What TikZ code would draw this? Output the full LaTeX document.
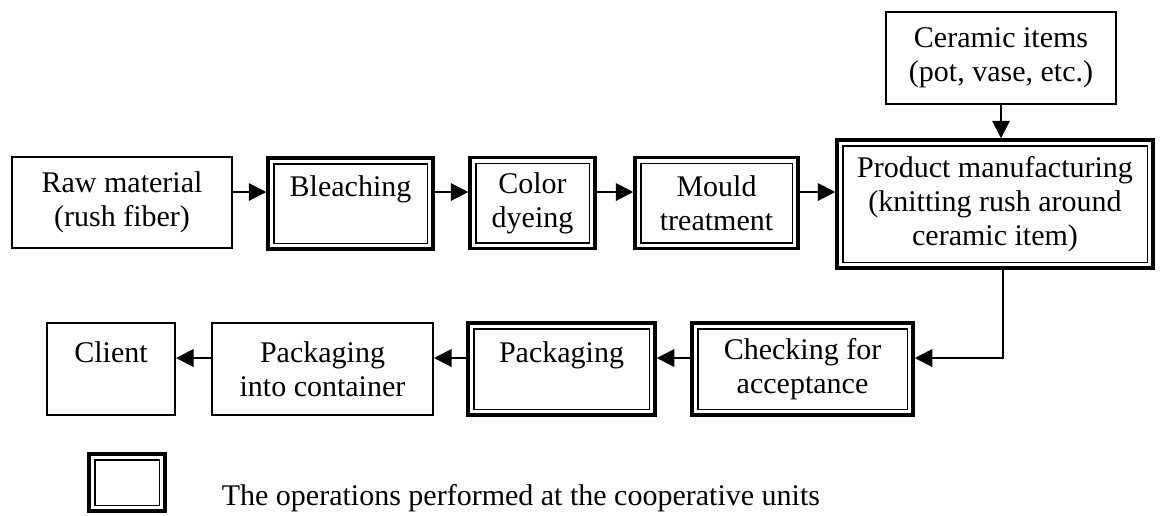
\documentclass[tikz,border=0pt]{standalone}
\usepackage{fontspec}
\setmainfont{Liberation Serif}
\usetikzlibrary{arrows.meta}
\begin{document}
\begin{tikzpicture}[x=0.4pt,y=-0.4pt]

  % Definitions
  \tikzstyle{plain} = [rectangle, draw=black, line width=0.8pt, align=center, inner sep=0pt, minimum height=36.4pt, font=\fontsize{12}{13.6}\selectfont]
  \tikzstyle{coop} = [plain, line width=1.4pt, path picture={\draw[line width=0.6pt] ([shift={(2.3pt,-2.3pt)}]path picture bounding box.north west) rectangle ([shift={(-2.3pt,2.3pt)}]path picture bounding box.south east);}]
  \tikzstyle{arrow} = [line width=0.8pt,-{Triangle[length=7pt,width=7pt]}]

  \useasboundingbox (0,0) rectangle (1163,515);

  \node (raw) [plain, minimum width=88pt] at (122,202.5) {Raw material\\(rush fiber)};
  \node (bleach) [coop, minimum width=66pt] at (350.5,203.5) {Bleaching\\\mbox{}};
  \node (dye) [coop, minimum width=50pt] at (532.5,203) {Color\\dyeing};
  \node (mould) [coop, minimum width=65.2pt] at (716.5,203) {Mould\\treatment};
  \node (product) [coop, minimum width=126.4pt, minimum height=51.2pt] at (995,204) {Product manufacturing\\(knitting rush around\\ceramic item)};
  \node (ceramic) [plain, minimum width=92pt, minimum height=36.8pt] at (1001,58) {Ceramic items\\(pot, vase, etc.)};

  \node (check) [coop, minimum width=88.4pt, minimum height=36.8pt] at (802.5,369) {Checking for\\acceptance};
  \node (pack) [coop, minimum width=74.8pt, minimum height=36.8pt] at (561.5,369) {Packaging\\\mbox{}};
  \node (container) [plain, minimum width=88.4pt, minimum height=36.8pt] at (322.5,369) {Packaging\\into container};
  \node (client) [plain, minimum width=51.2pt, minimum height=36.8pt] at (111,369) {Client\\\mbox{}};

  \node (key) [coop, minimum width=30.4pt, minimum height=22.8pt] at (127,482.5) {};
  \node (keytext) [anchor=base west, font=\fontsize{12}{13.6}\selectfont] at (213,505) {The operations performed at the cooperative units};

  \coordinate (row1) at (0,192);
  \coordinate (row2) at (0,358);
  \coordinate (turn) at (1003,358);

  \draw [arrow] (raw.east |- row1) -- (bleach.west |- row1);
  \draw [arrow] (bleach.east |- row1) -- (dye.west |- row1);
  \draw [arrow] (dye.east |- row1) -- (mould.west |- row1);
  \draw [arrow] (mould.east |- row1) -- (product.west |- row1);
  \draw [arrow] (ceramic.south) -- (ceramic.south |- product.north);
  \draw [arrow] (product.south -| turn) -- (turn) -- (check.east |- turn);
  \draw [arrow] (check.west |- row2) -- (pack.east |- row2);
  \draw [arrow] (pack.west |- row2) -- (container.east |- row2);
  \draw [arrow] (container.west |- row2) -- (client.east |- row2);

\end{tikzpicture}
\end{document}
